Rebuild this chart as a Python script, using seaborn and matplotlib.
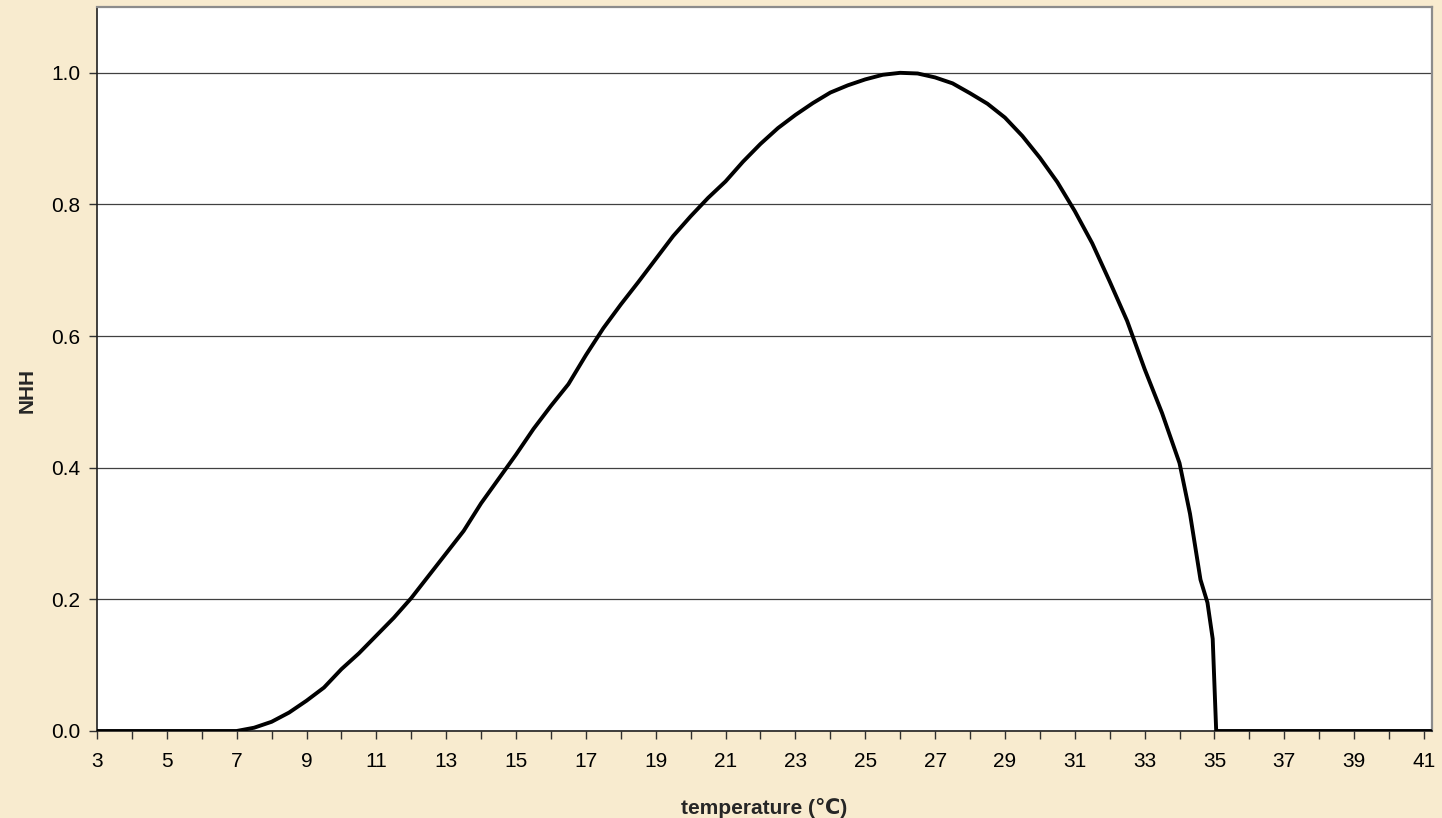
import pandas as pd
import matplotlib.pyplot as plt
import seaborn as sns

# Dados (temperatura em °C, NHH)
temperatura = [3.0, 7.0, 7.5, 8.0, 8.5, 9.0, 9.5, 10.0, 10.5, 11.0, 11.5, 12.0,
               12.5, 13.0, 13.5, 14.0, 14.5, 15.0, 15.5, 16.0, 16.5, 17.0, 17.5,
               18.0, 18.5, 19.0, 19.5, 20.0, 20.5, 21.0, 21.5, 22.0, 22.5, 23.0,
               23.5, 24.0, 24.5, 25.0, 25.5, 26.0, 26.5, 27.0, 27.5, 28.0, 28.5,
               29.0, 29.5, 30.0, 30.5, 31.0, 31.5, 32.0, 32.5, 33.0, 33.5, 34.0,
               34.3, 34.6, 34.8, 34.95, 35.0, 35.05, 41.2]
nhh = [0.0, 0.0, 0.005, 0.014, 0.028, 0.046, 0.066, 0.094, 0.118, 0.145, 0.172,
       0.202, 0.236, 0.27, 0.304, 0.346, 0.383, 0.42, 0.459, 0.494, 0.527, 0.571,
       0.612, 0.648, 0.682, 0.717, 0.752, 0.782, 0.81, 0.835, 0.865, 0.892,
       0.916, 0.936, 0.954, 0.97, 0.981, 0.99, 0.997, 1.0, 0.999, 0.993, 0.984,
       0.969, 0.953, 0.932, 0.904, 0.871, 0.834, 0.79, 0.741, 0.683, 0.623,
       0.55, 0.483, 0.407, 0.33, 0.23, 0.195, 0.14, 0.07, 0.0, 0.0]

ticks_x = list(range(3, 42))
rotulos_x = [str(t) if t % 2 == 1 else '' for t in ticks_x]
ticks_y = [0, 0.2, 0.4, 0.6, 0.8, 1.0]
rotulos_y = ['0.0', '0.2', '0.4', '0.6', '0.8', '1.0']

df = pd.DataFrame({'temperatura': temperatura, 'NHH': nhh})

sns.set_style('white')
plt.rcParams['font.family'] = ['Liberation Sans', 'DejaVu Sans']

fundo = '#F8EBCF'
fig = plt.figure(figsize=(14.42, 8.18), dpi=100, facecolor=fundo)
ax = fig.add_axes([97 / 1442, 1 - 731 / 818, (1432 - 97) / 1442, (731 - 7) / 818])
ax.set_facecolor('white')

sns.lineplot(data=df, x='temperatura', y='NHH', color='black', linewidth=2.8,
             ax=ax, zorder=3)

ax.set_xlim(3, 41.23)
ax.set_ylim(0, 1.1)
ax.set_xticks(ticks_x)
ax.set_xticklabels(rotulos_x)
ax.set_yticks(ticks_y)
ax.set_yticklabels(rotulos_y)

ax.grid(axis='y', color='#404040', linewidth=0.9)
ax.grid(axis='x', visible=False)
ax.tick_params(axis='both', direction='out', length=6, width=1, color='#303030',
               labelsize=15, labelcolor='black', bottom=True, left=True)
ax.tick_params(axis='x', pad=9)
ax.tick_params(axis='y', pad=6)

for lado in ['left', 'bottom']:
    ax.spines[lado].set_color('#202020')
    ax.spines[lado].set_linewidth(1.2)
for lado in ['top', 'right']:
    ax.spines[lado].set_color('#8c8c8c')
    ax.spines[lado].set_linewidth(1.6)

ax.set_xlabel('temperature (℃)', fontsize=15, fontweight='bold')
ax.set_ylabel('NHH', fontsize=15, fontweight='bold')
ax.xaxis.set_label_coords(0.5, -0.092)
ax.yaxis.set_label_coords(-0.045, 0.47)

fig.savefig('out.png', dpi=100, facecolor=fundo)
